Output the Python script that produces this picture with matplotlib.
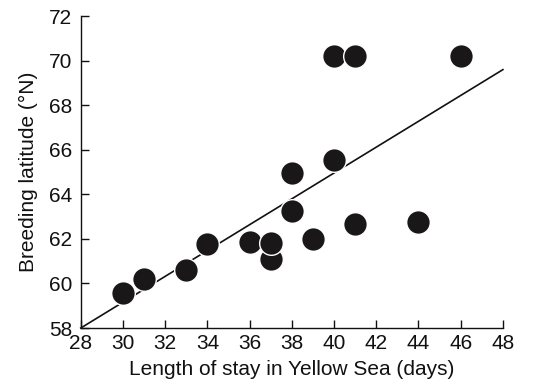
import numpy as np
import matplotlib
matplotlib.use("Agg")
import matplotlib.pyplot as plt

plt.rcParams["font.family"] = ["Liberation Sans", "DejaVu Sans"]

# --- Daten ---
stay_days = [30, 31, 33, 34, 36, 37, 37, 38, 38, 39, 40, 40, 41, 41, 44, 46]
latitude = [59.55, 60.2, 60.62, 61.77, 61.86, 61.11, 61.81, 63.27, 64.96,
            61.99, 65.53, 70.2, 70.2, 62.65, 62.78, 70.2]

# regression line end points
fit_x = [28, 48]
fit_y = [58.0, 69.6]

x_ticks = list(range(28, 49, 2))
y_ticks = list(range(58, 73, 2))

fig = plt.figure(figsize=(5.35, 3.85), dpi=100)
ax = fig.add_axes([0.151, 0.148, 0.789, 0.810])

ax.plot(fit_x, fit_y, color="#111111", lw=1.2, zorder=2, clip_on=False)
ax.scatter(stay_days, latitude, s=290, color="#1a1718", edgecolors="white",
           linewidths=1.0, zorder=3, clip_on=False)

ax.set_xlim(28, 48)
ax.set_ylim(58, 72)
ax.set_xticks(x_ticks)
ax.set_yticks(y_ticks)
ax.tick_params(direction="in", length=6, width=1, labelsize=15, colors="#111111")
ax.tick_params(axis="x", pad=4.5)
ax.tick_params(axis="y", pad=6)

for side in ["top", "right"]:
    ax.spines[side].set_visible(False)
for side in ["left", "bottom"]:
    ax.spines[side].set_linewidth(1)
    ax.spines[side].set_color("#111111")

ax.set_xlabel("Length of stay in Yellow Sea (days)", fontsize=15, color="#111111", labelpad=5)
ax.set_ylabel("Breeding latitude (°N)", fontsize=15, color="#111111", labelpad=8)

fig.savefig("out.png", dpi=100)
